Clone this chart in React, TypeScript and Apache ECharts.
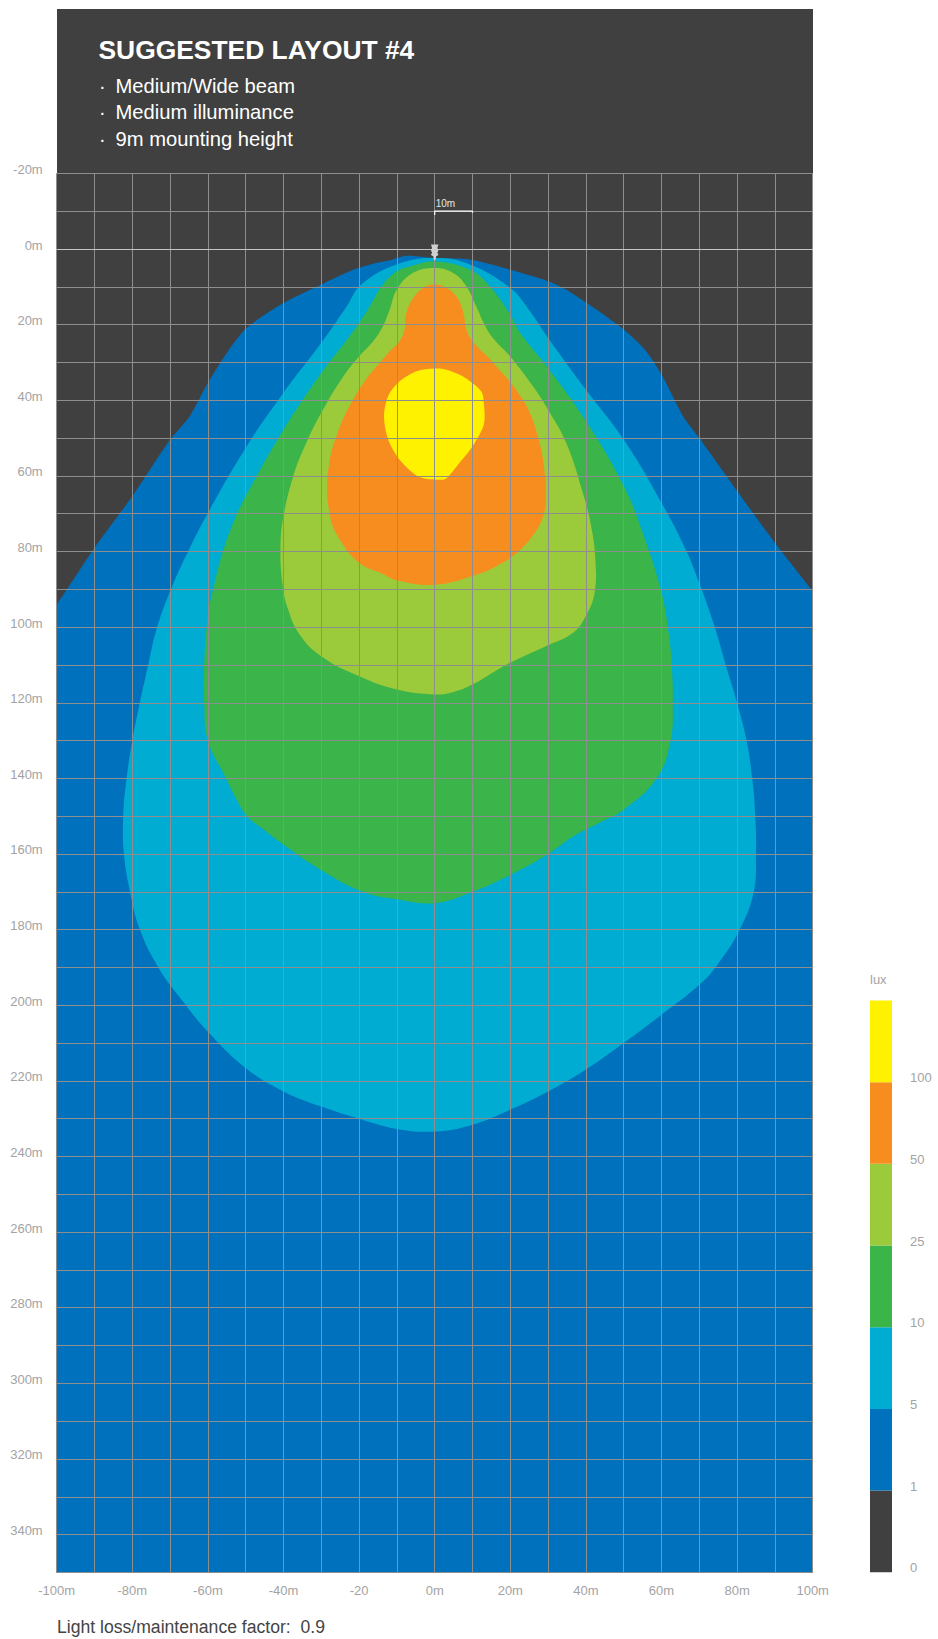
import React, { useEffect, useRef } from "react";
import * as echarts from "echarts";

type Pt = [number, number];

const titleText = "SUGGESTED LAYOUT #4";
const bulletLines = ["Medium/Wide beam", "Medium illuminance", "9m mounting height"];
const footerText = "Light loss/maintenance factor:  0.9";
const xTickLabels = ["-100m", "-80m", "-60m", "-40m", "-20", "0m", "20m", "40m", "60m", "80m", "100m"];
const yTickLabels = ["-20m", "0m", "20m", "40m", "60m", "80m", "100m", "120m", "140m", "160m", "180m", "200m", "220m", "240m", "260m", "280m", "300m", "320m", "340m"];
const luxTicks = ["0", "1", "5", "10", "25", "50", "100"];
const luxColors = ["#404040", "#0071BC", "#00ACD2", "#3BB44A", "#9BCA3B", "#F78D1F", "#FFF200"];

const zone1: Pt[] = [
  [-112, 110], [-100, 94], [-90, 79], [-80, 65.4], [-70, 50.4], [-64.8, 44.2], [-60, 35.4], [-55, 27.5], [-49.8, 20.9],
  [-40, 14.3], [-30, 9.4], [-21.6, 5.5], [-16.3, 3.9], [-11.9, 3], [-7.5, 1.8], [0, 2.4], [9.3, 2.8], [20, 5.5],
  [30, 8.5], [34, 10.3], [40, 14.1], [50, 21.3], [55.6, 26.6], [60, 33.2], [65.7, 44.2], [70, 50], [80, 64], [90, 77.7],
  [100, 90.5], [112, 106], [112, 365], [-112, 365],
];
const zone2: Pt[] = [
  [0, 2.4], [9.3, 4.1], [20, 10.3], [24.3, 15.2], [30, 23.5], [40, 37.2], [50, 50.4], [60, 67.1], [66.6, 79.9],
  [70, 88.3], [74, 99.7], [77, 110], [80, 120], [82.5, 130], [84, 140], [84.8, 150], [85, 160], [84.4, 170], [80.7, 180],
  [75, 189], [70, 194.6], [60, 202.5], [50, 210], [40, 217], [30, 222.8], [20, 227.6], [10, 231.6], [0, 233.4],
  [-10, 232.7], [-20, 230], [-30, 226.8], [-40, 222.8], [-50, 216.6], [-60, 207], [-67, 198.5], [-73.1, 190], [-78, 180],
  [-80.6, 170], [-82.2, 160], [-82.4, 150], [-81.5, 140], [-80, 130], [-78, 120], [-75.8, 110],
  [-73.6, 100.6], [-70, 90.5], [-65.2, 79.9], [-60, 69.8], [-50, 52.6], [-40, 38], [-30, 24.8],
  [-23.3, 15.2], [-19.4, 9.4], [-10.1, 4.1],
];
const zone3: Pt[] = [
  [0, 3.3], [9.3, 5.5], [14.6, 9.9], [20, 17.4], [22.6, 22.2], [30, 31.5], [40, 45.5], [50, 62.7], [55, 75], [60, 90.9],
  [62, 102.4], [62.7, 110], [63, 120], [62.4, 130], [58.7, 140], [50, 148.3], [43.7, 151.7], [36.6, 155.4],
  [30, 160], [20, 165.5], [10, 170], [0, 173], [-10, 172], [-19, 170], [-30, 164.3], [-40, 157.5], [-45, 153.7], [-49.6, 150], [-52.6, 145.2],
  [-55.2, 140], [-60, 130], [-61, 120], [-61, 110], [-60, 97], [-58.6, 90], [-56.4, 81.2], [-53.3, 72.4], [-50, 65.4],
  [-40, 47.8], [-30, 32.8], [-22.5, 23], [-18, 16.5], [-13.7, 9.4], [-10, 5.9], [-6.6, 4.6],
];
const zone4: Pt[] = [
  [0, 5], [4.8, 6.3], [8.4, 9.9], [11, 15.2], [13.2, 20], [15.4, 23.5], [20, 28.4], [26, 36.3], [30, 42.5], [34.8, 51.3],
  [39.2, 64.5], [41.4, 73.3], [42.5, 82.1], [42.3, 90.9], [40, 97], [36.6, 101.5], [30, 104.8], [20, 109.4], [15.4, 112],
  [10, 115.2], [4.8, 117.2], [0, 117.8], [-10, 116.5], [-20, 113], [-30, 107.7], [-35.7, 102], [-38.8, 95.3], [-40.3, 88.3],
  [-40.8, 78.6], [-40, 70.7], [-37.4, 60], [-34, 51.3], [-30, 43.3], [-24.2, 33.7], [-20, 28.4], [-16.3, 24.4], [-13.7, 20.4],
  [-11.9, 16], [-10, 10.7], [-5.7, 6.3],
];
const zone5: Pt[] = [
  [0, 9.4], [3.1, 10.3], [5.7, 12.5], [7.5, 16.5], [8.4, 21.3], [10, 24.4], [15.4, 30], [23.4, 40], [27.4, 50], [29.2, 60],
  [29.4, 65], [28.9, 70], [26.5, 75], [22.1, 80], [17, 83.5], [10, 86.5], [0, 88.8], [-10, 87.6], [-14, 85.8], [-20, 83], [-25.6, 76], [-27.8, 70],
  [-28.3, 60], [-26, 49.5], [-20, 37.2], [-12.3, 27.5], [-9.3, 24.4], [-7.9, 20.9], [-7.7, 17.8], [-6.2, 13.8],
  [-3.1, 10.3],
];
const zone6: Pt[] = [
  [0, 31.6], [3.1, 31.9], [7.5, 33.7], [12.3, 37.6], [13, 40.7], [13, 46.4], [10, 52.2], [7, 56], [3.5, 60.3], [2.2, 61], [-4, 60.3],
  [-9.3, 55.7], [-12.3, 50.4], [-13.4, 44.2], [-12.3, 38.9], [-9.3, 35], [-4.8, 32.3],
];
const zones: Pt[][] = [zone1, zone2, zone3, zone4, zone5, zone6];
const zoneColors = luxColors.slice(1);
const zoneSmooth = [0.25, 0.42, 0.42, 0.42, 0.42, 0.3];

const luminaire: Pt[] = [
  [-1, -1.2], [1, -1.2], [0.7, -0.3], [1, 0.3], [0.7, 1], [1, 1.6], [0.4, 1.9], [0.2, 3], [-0.2, 3], [-0.4, 1.9], [-1, 1.6], [-0.7, 1], [-1, 0.3], [-0.7, -0.3],
];
const scaleBar: Pt[] = [[0, -9], [0, -10], [10, -10], [10, -9.6]];
const scaleBarLabel = "10m";

const FONT = '"Liberation Sans", Arial, sans-serif';
const GRID_LINE = "#8e8e8e";
const LABEL = "#a3a3a3";

function polygonSeries(points: Pt[], fill: string, smooth: number, z: number) {
  return {
    type: "custom",
    coordinateSystem: "cartesian2d",
    xAxisIndex: 0,
    yAxisIndex: 0,
    clip: true,
    silent: true,
    z,
    data: points,
    encode: { x: 0, y: 1 },
    renderItem: (params: any, api: any) => {
      if (params.dataIndex !== 0) return null;
      return {
        type: "polygon",
        shape: { points: points.map((p) => api.coord(p)), smooth },
        style: { fill },
      };
    },
  };
}

export default function App() {
  const ref = useRef<HTMLDivElement>(null);
  useEffect(() => {
    const chart = echarts.init(ref.current!, undefined, { renderer: "svg" });
    chart.setOption({
      animation: false,
      backgroundColor: "#ffffff",
      textStyle: { fontFamily: FONT },
      grid: [
        { left: 56.7, top: 173.4, width: 756, height: 1399, show: true, backgroundColor: "#404040", borderWidth: 0, containLabel: false },
        { left: 870, top: 1000.5, width: 22, height: 571.8, containLabel: false },
      ],
      xAxis: [
        {
          type: "value", gridIndex: 0, min: -100, max: 100, interval: 10, z: 5,
          axisLine: { show: true, lineStyle: { color: "#c4c4c4", width: 1 } },
          axisTick: { show: false },
          splitLine: { show: true, lineStyle: { color: GRID_LINE, width: 1 } },
          axisLabel: {
            color: LABEL, fontSize: 13, fontFamily: FONT, margin: 12,
            formatter: (v: number) => (v % 20 === 0 ? xTickLabels[(v + 100) / 20] : ""),
          },
        },
        { type: "category", gridIndex: 1, data: ["lux"], show: false },
      ],
      yAxis: [
        {
          type: "value", gridIndex: 0, inverse: true, min: -20, max: 350, interval: 10, z: 5,
          axisLine: { show: false },
          axisTick: { show: false },
          splitLine: { show: true, lineStyle: { color: GRID_LINE, width: 1 } },
          axisLabel: {
            color: LABEL, fontSize: 13, fontFamily: FONT, margin: 14, verticalAlign: "bottom", lineHeight: 8,
            formatter: (v: number) => (v % 20 === 0 && v < 350 ? yTickLabels[(v + 20) / 20] : ""),
          },
        },
        {
          type: "value", gridIndex: 1, min: 0, max: 7, interval: 1, position: "right",
          axisLine: { show: false }, axisTick: { show: false }, splitLine: { show: false },
          axisLabel: {
            color: LABEL, fontSize: 13, fontFamily: FONT, margin: 18, verticalAlign: "bottom", lineHeight: 9,
            formatter: (v: number) => luxTicks[v] ?? "",
          },
        },
      ],
      series: [
        ...zones.map((z, i) => polygonSeries(z, zoneColors[i], zoneSmooth[i], 2 + i * 0.01)),
        polygonSeries(luminaire, "#cfcfcf", 0, 8),
        {
          type: "line", xAxisIndex: 0, yAxisIndex: 0, data: scaleBar, z: 9, silent: true,
          symbol: "none", lineStyle: { color: "#ffffff", width: 1.2 },
          label: { show: false },
        },
        {
          type: "custom", coordinateSystem: "cartesian2d", xAxisIndex: 0, yAxisIndex: 0, z: 9, silent: true,
          data: [scaleBar[1]], encode: { x: 0, y: 1 },
          renderItem: (_p: any, api: any) => {
            const c = api.coord([api.value(0), api.value(1)]);
            return {
              type: "text", x: c[0] + 1, y: c[1] - 8,
              style: { text: scaleBarLabel, fill: "#e6e6e6", fontSize: 10, fontFamily: FONT, verticalAlign: "middle" },
            };
          },
        },
        ...luxColors.map((color, i) => ({
          type: "bar", name: luxTicks[i], xAxisIndex: 1, yAxisIndex: 1, stack: "lux", barWidth: "100%", silent: true,
          data: [1], itemStyle: { color },
        })),
      ],
      graphic: [
        { type: "rect", shape: { x: 57, y: 9, width: 756, height: 165 }, style: { fill: "#404040" }, silent: true, z: 0 },
        { type: "text", x: 98.5, y: 50, style: { text: titleText, fill: "#ffffff", fontSize: 26.4, fontWeight: "bold", fontFamily: FONT, verticalAlign: "middle" }, z: 3 },
        ...bulletLines.flatMap((line, i) => [
          { type: "text", x: 99, y: 85.5 + i * 26.6, style: { text: "·", fill: "#ffffff", fontSize: 20, fontFamily: FONT, verticalAlign: "middle" }, z: 3 },
          { type: "text", x: 115.5, y: 85.5 + i * 26.6, style: { text: line, fill: "#ffffff", fontSize: 20.2, fontFamily: FONT, verticalAlign: "middle" }, z: 3 },
        ]),
        { type: "text", x: 57, y: 1627, style: { text: footerText, fill: "#444444", fontSize: 17.6, fontFamily: FONT, verticalAlign: "middle" }, z: 3 },
        { type: "text", x: 870, y: 979.5, style: { text: "lux", fill: LABEL, fontSize: 13, fontFamily: FONT, verticalAlign: "middle" }, z: 3 },
      ],
    });
    return () => chart.dispose();
  }, []);
  return <div ref={ref} style={{ position: "absolute", left: 0, top: 0, width: 938, height: 1639 }} />;
}
